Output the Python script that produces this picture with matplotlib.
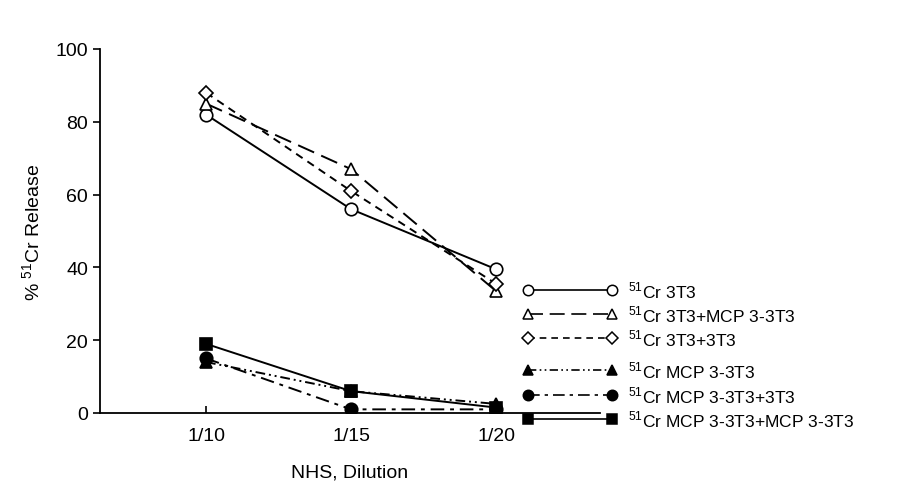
import matplotlib
matplotlib.use("Agg")
import matplotlib.pyplot as plt
from matplotlib.lines import Line2D

dilutions = ["1/10", "1/15", "1/20"]
cr_3t3 = [82, 56, 39.5]
cr_3t3_mcp = [85, 67, 33.5]
cr_3t3_3t3 = [88, 61, 35.5]
mcp = [14, 6, 2.5]
mcp_3t3 = [15, 1, 1]
mcp_mcp = [19, 6, 1.5]

labels = [r"$^{51}$Cr 3T3", r"$^{51}$Cr 3T3+MCP 3-3T3", r"$^{51}$Cr 3T3+3T3",
          r"$^{51}$Cr MCP 3-3T3", r"$^{51}$Cr MCP 3-3T3+3T3", r"$^{51}$Cr MCP 3-3T3+MCP 3-3T3"]
series = [cr_3t3, cr_3t3_mcp, cr_3t3_3t3, mcp, mcp_3t3, mcp_mcp]
styles = [
    dict(marker="o", mfc="white", ls="-"),
    dict(marker="^", mfc="white", ls=(0, (9, 4))),
    dict(marker="D", mfc="white", ls=(0, (4, 3))),
    dict(marker="^", mfc="black", ls=(0, (5, 2, 1, 2, 1, 2))),
    dict(marker="o", mfc="black", ls=(0, (7, 3, 2, 3))),
    dict(marker="s", mfc="black", ls="-"),
]

plt.rcParams["font.family"] = ["Liberation Sans", "DejaVu Sans"]
plt.rcParams["mathtext.fontset"] = "custom"
plt.rcParams["mathtext.rm"] = "Liberation Sans"
W, H = 898, 489
fig = plt.figure(figsize=(W/100, H/100), dpi=100)
ax = fig.add_axes([100/W, 1-414/H, (600-100)/W, (414-50)/H])
x = list(range(len(dilutions)))
for s, st in zip(series, styles):
    ms = 7 if st["marker"] == "D" else 9
    ax.plot(x, s, color="black", lw=1.4, mec="black", mew=1.2, ms=ms, **st)
ax.set_xlim(-0.731, 2.717)
ax.set_ylim(0, 100)
ax.set_yticks([0, 20, 40, 60, 80, 100])
ax.set_xticks(x)
ax.set_xticklabels(dilutions)
ax.tick_params(labelsize=14, length=5, width=1.2)
ax.tick_params(axis="x", direction="in", pad=10)
for sp in ["top", "right"]:
    ax.spines[sp].set_visible(False)
for sp in ["left", "bottom"]:
    ax.spines[sp].set_linewidth(1.3)
ax.set_xlabel("NHS, Dilution", fontsize=14, labelpad=14)
ax.set_ylabel(r"% $^{51}$Cr Release", fontsize=14, labelpad=8)

rows = [291, 315, 339, 371, 396, 420]
for yy, st, lab in zip(rows, styles, labels):
    fy = 1 - yy/H
    ms = 6 if st["marker"] == "D" else 7.5
    fig.add_artist(Line2D([528/W, 612/W], [fy, fy], transform=fig.transFigure, color="black",
                          lw=1.2, mec="black", mew=1.1, ms=ms, **st))
    fig.text(628/W, fy, lab, fontsize=12.5, va="center", ha="left")

fig.savefig("out.png", dpi=100)
